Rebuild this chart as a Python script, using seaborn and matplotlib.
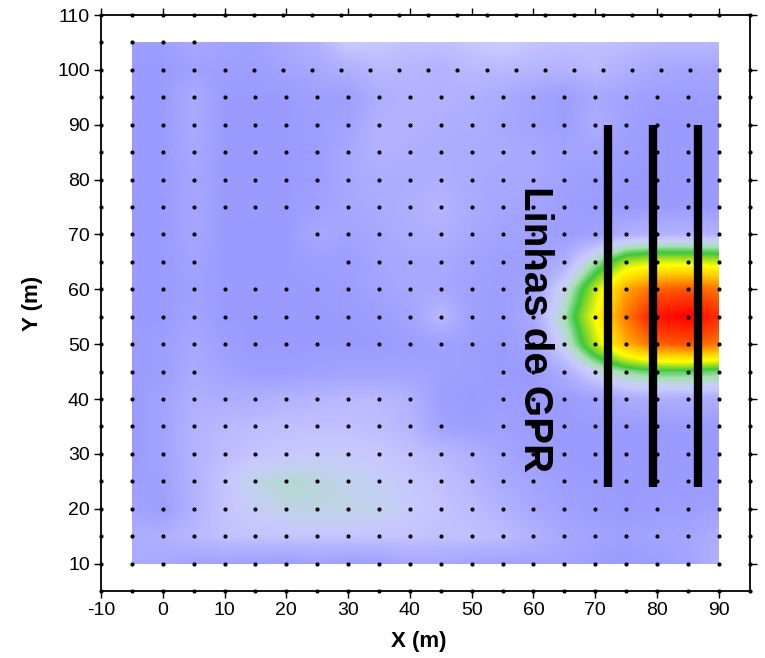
import numpy as np
import pandas as pd
import matplotlib
matplotlib.use("Agg")
import matplotlib.pyplot as plt
from matplotlib.colors import LinearSegmentedColormap
from matplotlib.patches import Rectangle
import seaborn as sns

# Grid nodes of the gridded map (metres)
grid_x = [-5, 0, 5, 10, 15, 20, 25, 30, 35, 40, 45, 50, 55, 60, 65, 70, 75, 80, 85, 90]
grid_y = [105, 100, 95, 90, 85, 80, 75, 70, 65, 60, 55, 50, 45, 40, 35, 30, 25, 20, 15, 10]

map_values = [
    [0.10, 0.10, 0.30, 0.20, 0.15, 0.35, 0.50, 0.85, 0.80, 0.70, 0.70, 0.80, 0.90, 0.75, 0.70, 0.70, 0.65, 0.60, 0.60, 0.60],
    [0.05, 0.05, 0.15, 0.10, 0.10, 0.20, 0.30, 0.45, 0.60, 0.55, 0.50, 0.60, 0.60, 0.55, 0.50, 0.60, 0.45, 0.30, 0.25, 0.25],
    [0.05, 0.05, 0.35, 0.05, 0.05, 0.05, 0.15, 0.10, 0.40, 0.50, 0.50, 0.45, 0.35, 0.20, 0.10, 0.30, 0.20, 0.10, 0.10, 0.10],
    [0.05, 0.05, 0.35, 0.05, 0.05, 0.05, 0.10, 0.20, 0.50, 0.50, 0.45, 0.40, 0.30, 0.20, 0.10, 0.40, 0.15, 0.05, 0.05, 0.05],
    [0.05, 0.05, 0.30, 0.05, 0.05, 0.05, 0.10, 0.30, 0.50, 0.45, 0.40, 0.35, 0.35, 0.30, 0.20, 0.20, 0.10, 0.05, 0.05, 0.05],
    [0.05, 0.05, 0.25, 0.05, 0.05, 0.05, 0.10, 0.30, 0.40, 0.40, 0.45, 0.35, 0.30, 0.30, 0.15, 0.10, 0.05, 0.05, 0.05, 0.05],
    [0.05, 0.05, 0.25, 0.05, 0.05, 0.05, 0.15, 0.30, 0.35, 0.45, 0.55, 0.35, 0.25, 0.20, 0.10, 0.05, 0.05, 0.05, 0.05, 0.05],
    [0.05, 0.05, 0.25, 0.05, 0.05, 0.05, 0.30, 0.20, 0.30, 0.40, 0.45, 0.30, 0.20, 0.15, 0.10, 0.15, 0.45, 0.50, 0.50, 0.50],
    [0.05, 0.05, 0.20, 0.05, 0.05, 0.05, 0.10, 0.10, 0.25, 0.30, 0.30, 0.20, 0.10, 0.10, 0.40, 1.30, 2.10, 2.30, 2.30, 2.20],
    [0.05, 0.05, 0.15, 0.05, 0.05, 0.05, 0.05, 0.10, 0.20, 0.30, 0.30, 0.15, 0.10, 0.20, 1.00, 2.20, 3.40, 4.00, 4.10, 3.80],
    [0.05, 0.05, 0.20, 0.05, 0.05, 0.05, 0.05, 0.05, 0.10, 0.20, 0.60, 0.15, 0.10, 0.30, 1.30, 2.50, 3.80, 4.80, 5.00, 4.50],
    [0.05, 0.10, 0.30, 0.10, 0.05, 0.05, 0.05, 0.05, 0.05, 0.10, 0.15, 0.10, 0.05, 0.20, 1.00, 2.20, 3.30, 4.00, 4.10, 3.80],
    [0.05, 0.10, 0.35, 0.20, 0.10, 0.10, 0.15, 0.20, 0.20, 0.20, 0.15, 0.10, 0.05, 0.05, 0.40, 1.00, 1.40, 1.60, 1.60, 1.50],
    [0.05, 0.20, 0.45, 0.40, 0.45, 0.50, 0.55, 0.60, 0.60, 0.50, 0.10, 0.05, 0.10, 0.05, 0.05, 0.15, 0.35, 0.40, 0.40, 0.40],
    [0.05, 0.20, 0.50, 0.60, 0.65, 0.70, 0.70, 0.70, 0.65, 0.55, 0.20, 0.10, 0.15, 0.05, 0.05, 0.05, 0.05, 0.05, 0.05, 0.05],
    [0.05, 0.20, 0.50, 0.65, 0.75, 0.80, 0.85, 0.85, 0.80, 0.70, 0.60, 0.45, 0.25, 0.10, 0.05, 0.05, 0.05, 0.05, 0.05, 0.05],
    [0.10, 0.15, 0.50, 0.75, 1.05, 1.15, 1.10, 1.00, 0.90, 0.80, 0.70, 0.55, 0.35, 0.20, 0.10, 0.05, 0.05, 0.05, 0.05, 0.05],
    [0.20, 0.10, 0.50, 0.75, 0.90, 1.05, 1.05, 1.05, 1.00, 0.85, 0.75, 0.65, 0.50, 0.30, 0.15, 0.10, 0.05, 0.10, 0.10, 0.15],
    [0.40, 0.45, 0.60, 0.70, 0.75, 0.75, 0.75, 0.75, 0.75, 0.75, 0.70, 0.70, 0.65, 0.50, 0.30, 0.20, 0.15, 0.20, 0.25, 0.40],
    [0.35, 0.30, 0.20, 0.20, 0.15, 0.10, 0.20, 0.10, 0.15, 0.30, 0.30, 0.20, 0.20, 0.20, 0.20, 0.10, 0.05, 0.10, 0.20, 0.50],
]

# GPR survey lines
gpr_x = [72, 79.3, 86.6]
gpr_y0 = 24
gpr_y1 = 90

# Sample stations (posted as dots)
station_x = [-10, -5, 0, 5, 10, 15, 20, 25, 30, 35, 40, 45, 50, 55, 60, 65, 70, 75, 80, 85, 90, 95]
station_y = [5, 10, 15, 20, 25, 30, 35, 40, 45, 50, 55, 60, 65, 70, 75, 80, 85, 90, 95]
station_x_top = [-10, -5, 0, 5, 10, 14.7, 19.4, 24.1, 28.8, 33.5, 38.2, 42.9, 47.6, 52.4,
                 57.1, 61.8, 66.5, 71.2, 75.9, 80.6, 85.3, 90, 95]
station_y_top = [100, 110]
station_x_105 = [-10, -5, 0, 5]
missing = [(10, 70), (15, 70), (20, 70), (10, 65), (15, 65), (20, 65), (25, 65),
           (10, 45), (15, 45), (20, 45), (25, 45), (30, 45), (35, 45), (40, 45), (45, 45), (50, 45),
           (45, 40), (50, 40), (50, 35)]

pts = [(x, y) for y in station_y for x in station_x if (x, y) not in missing]
pts += [(x, y) for y in station_y_top for x in station_x_top]
pts += [(x, 105) for x in station_x_105]
stations = pd.DataFrame(pts, columns=["x", "y"])

sns.set_style("ticks")
plt.rcParams["font.family"] = ["Liberation Sans", "DejaVu Sans"]
plt.rcParams["axes.unicode_minus"] = False
plt.rcParams["text.color"] = "black"
plt.rcParams["axes.labelcolor"] = "black"

# Surfer-like colour scale
stops = [0, 0.5, 0.8, 1.0, 1.3, 1.7, 2.1, 2.5, 3.0, 3.6, 4.3, 5.0]
cols = ["#9a9aff", "#b3b3ff", "#c8c8ff", "#c2d2ec", "#a8e0b4", "#3cc83c", "#a8e020",
        "#ffff00", "#ffd400", "#ff9000", "#ff4000", "#ff0000"]
cmap = LinearSegmentedColormap.from_list("surfer", list(zip(np.array(stops) / 5, cols)))

fig = plt.figure(figsize=(7.65, 6.58), dpi=100)
ax = fig.add_axes([0.132, 0.1018, 0.848, 0.8754])

dx = grid_x[1] - grid_x[0]
im = ax.imshow(np.array(map_values), cmap=cmap, vmin=0, vmax=5,
               extent=[grid_x[0] - dx / 2, grid_x[-1] + dx / 2, grid_y[-1] - dx / 2, grid_y[0] + dx / 2],
               origin="upper", aspect="auto", interpolation="bilinear",
               interpolation_stage="data", zorder=1)
im.set_clip_path(Rectangle((grid_x[0], grid_y[-1]), grid_x[-1] - grid_x[0], grid_y[0] - grid_y[-1],
                           transform=ax.transData))

sns.scatterplot(data=stations, x="x", y="y", color="black", s=9, linewidth=0,
                ax=ax, clip_on=False, zorder=4, legend=False)

ax.vlines(gpr_x, gpr_y0, gpr_y1, color="black", linewidth=6, capstyle="butt", zorder=3)

ax.text(60.3, 52.7, "Linhas de GPR", rotation=-90, ha="center", va="center",
        fontsize=29, fontweight="bold", color="black", zorder=5)

ax.set_xlim(-10, 95)
ax.set_ylim(5, 110)
ax.set_xticks(range(-10, 91, 10))
ax.set_yticks(range(10, 111, 10))
ax.tick_params(direction="out", length=5, width=1, top=True, right=True,
               labeltop=False, labelright=False, labelsize=14, pad=3, colors="black")
for s in ax.spines.values():
    s.set_visible(True)
    s.set_linewidth(1.3)
    s.set_color("black")

ax.set_xlabel("X (m)", fontsize=16, fontweight="bold")
ax.set_ylabel("Y (m)", fontsize=16, fontweight="bold")
ax.xaxis.set_label_coords(0.49, -0.069)
ax.yaxis.set_label_coords(-0.089, 0.5)

fig.savefig("out.png", dpi=100, facecolor="white")
